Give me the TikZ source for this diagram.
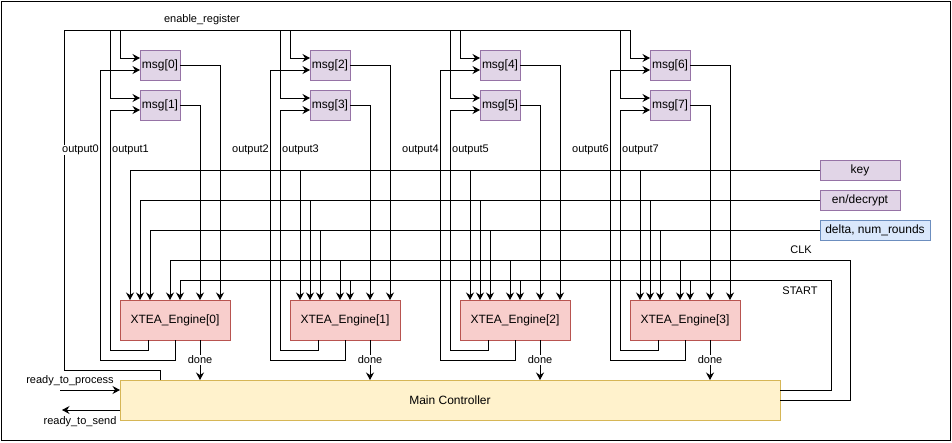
\documentclass[tikz,border=0pt]{standalone}
\usepackage{fontspec}
\setmainfont{Liberation Sans}
\usetikzlibrary{arrows.meta,calc,%
                positioning}

\definecolor{msgfill}{HTML}{E1D5E7}
\definecolor{msgline}{HTML}{9673A6}
\definecolor{engfill}{HTML}{F8CECC}
\definecolor{engline}{HTML}{B85450}
\definecolor{ctrlfill}{HTML}{FFF2CC}
\definecolor{ctrlline}{HTML}{D6B656}
\definecolor{dfill}{HTML}{DAE8FC}
\definecolor{dline}{HTML}{6C8EBF}

\tikzset{
  box/.style={draw, line width=1pt, inner sep=0pt, outer sep=0pt, font=\fontsize{12}{14}\selectfont},
  msgbox/.style={box, fill=msgfill, draw=msgline, minimum width=40pt, minimum height=30pt},
  engbox/.style={box, fill=engfill, draw=engline, minimum width=110pt, minimum height=40pt},
  inbox/.style={box, minimum width=80pt, minimum height=20pt},
  ctrlbox/.style={box, fill=ctrlfill, draw=ctrlline, minimum width=660pt, minimum height=40pt},
  arr/.style={-{Stealth[length=7.5pt,width=8pt,inset=2.5pt]}},
  lbl/.style={font=\fontsize{11}{13}\selectfont, inner sep=0pt}
}

\begin{document}
\begin{tikzpicture}[x=1pt, y=-1pt, line width=1pt]
\useasboundingbox (0,0) rectangle (952,442);
\draw (1,1) rectangle (950,440);

% inputs and controller
\node[inbox, fill=msgfill, draw=msgline] (key) at (860,170) {key};
\node[inbox, fill=msgfill, draw=msgline, below=10pt of key] (endec) {en/decrypt};
\node[inbox, fill=dfill, draw=dline, minimum width=110pt,
      below right=10pt and 0pt of endec.south west] (delta) {delta, num\_rounds};
\node[ctrlbox] (ctrl) at (450,400) {Main Controller};

% enable_register bus
\draw ($(ctrl.north west)+(40,0)$) -- ++(0,-10) -| (64,30) -- (630,30);
\node[lbl] at (202,20) {enable\_register};

% shared lines
\draw (key.west) -- (key.west -| 130,0);
\draw (endec.west) -- (endec.west -| 140,0);
\draw (delta.west) -- (delta.west -| 150,0);
\draw (ctrl.east) -- (850,400) |- (170,260);
\draw ($(ctrl.east)+(0,-10)$) -- (831,390) |- (180,280);
\node[lbl] at (801,250) {CLK};
\node[lbl] at (800,291) {START};

\foreach \k in {0,...,3}{
  \pgfmathtruncatemacro\a{2*\k}
  \pgfmathtruncatemacro\b{2*\k+1}
  \pgfmathtruncatemacro\ox{170*\k}
  \node[engbox] (e\k) at (175+\ox,320) {XTEA\_Engine[\k]};
  \node[msgbox] (m\a) at (160+\ox,65) {msg[\a]};
  \node[msgbox, below=10pt of m\a] (m\b) {msg[\b]};
  % enable
  \draw[arr] (120+\ox,30) |- ($(m\a.west)+(0,-7)$);
  \draw[arr] (110+\ox,30) |- ($(m\b.west)+(0,-7)$);
  % msg -> engine
  \draw[arr] (m\a.east) -| ($(e\k.north)+(45,0)$);
  \draw[arr] (m\b.east) -| ($(e\k.north)+(25,0)$);
  % key, en/decrypt, delta, CLK, START
  \foreach \dx/\y in {-45/170,-35/200,-25/230,-5/260,5/280}
    \draw[arr] (175+\ox+\dx,\y) -- ($(e\k.north)+(\dx,0)$);
  % engine -> msg
  \draw[arr] (e\k.south) -- ++(0,20) -| (100+\ox,70) -- ($(m\a.west)+(0,5)$);
  \draw[arr] ($(e\k.south)+(-27,0)$) -- ++(0,10) -| (110+\ox,110) -- ($(m\b.west)+(0,5)$);
  \node[lbl, fill=white] at (80.5+\ox,150) {output\a};
  \node[lbl, fill=white] at (130.5+\ox,150) {output\b};
  % done
  \draw[arr] ($(e\k.south)+(25,0)$) -- ($(e\k.south)+(25,40)$)
    node[lbl, fill=white, inner sep=1pt, midway] {done};
}

% handshake
\coordinate (rtp) at (60,390);
\coordinate (rts) at (62,410);
\draw[arr] (rtp) -- (rtp -| ctrl.west);
\draw[arr] (rts -| ctrl.west) -- (rts);
\node[lbl] at (70,381) {ready\_to\_process};
\node[lbl] at (80,422) {ready\_to\_send};
\end{tikzpicture}
\end{document}
